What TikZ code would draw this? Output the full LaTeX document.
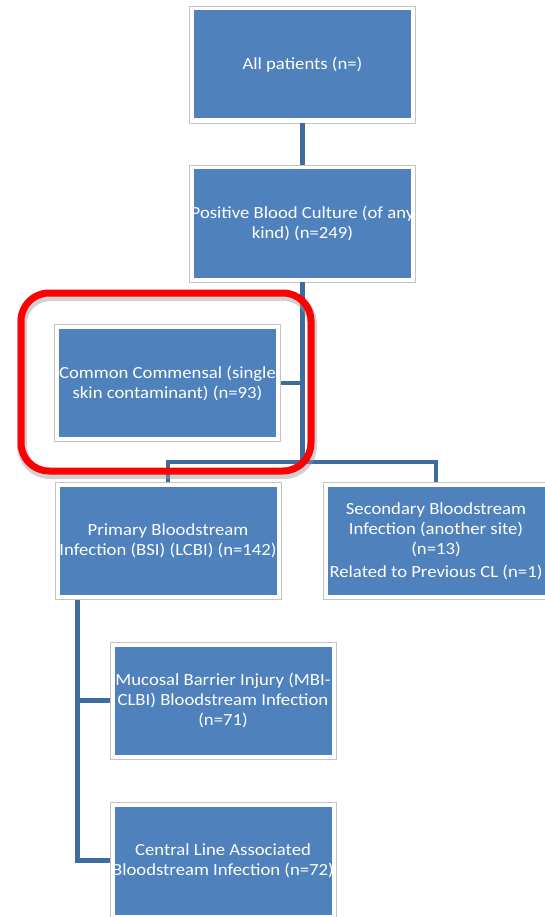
\documentclass[tikz,border=0pt]{standalone}
\usepackage{fontspec}
\setmainfont{Carlito}[FakeStretch=1.1]
\usepackage{xcolor}
\usepackage{tikz}
\usetikzlibrary{shapes,arrows}

\definecolor{boxblue}{HTML}{4F81BD}
\definecolor{lineblue}{HTML}{3F6C9E}
\definecolor{framegray}{HTML}{C4C4C4}

\begin{document}
\begin{tikzpicture}[auto,x=1pt,y=-1pt]
						\tikzset{align=center,font=\fontsize{17}{20}\selectfont}
						
						\tikzset{stage/.style = {shape=rectangle,draw=framegray,fill=white,line width=0.8pt,minimum width=226pt,minimum height=117pt,inner sep=0pt,text=white,
								path picture={\fill[boxblue] ([shift={(4.5pt,-4.5pt)}]path picture bounding box.north west) rectangle ([shift={(-4.5pt,4.5pt)}]path picture bounding box.south east);}}}
						
						\tikzset{edge/.style = {draw=lineblue,line width=4.5pt}}
						
						\tikzset{redframe/.style = {shape=rectangle,draw=red,line width=7pt,rounded corners=28pt,
								preaction={draw=black!40,opacity=0.45,line width=10pt,transform canvas={xshift=1pt,yshift=-3pt}}}}
						
						\useasboundingbox (0,0) rectangle (544,917);
						
						% vertices
						
						\node[stage] (all) at (302.5,64.5) {All patients (n=)};
						
						\node[stage] (pos) at (302.5,223.5) {Positive Blood Culture (of any\\kind) (n=249)};
						
						\node[stage] (com) at (167.5,383) {Common Commensal (single\\skin contaminant) (n=93)};
						
						\node[stage] (pri) at (168,541) {Primary Bloodstream\\Infection (BSI) (LCBI) (n=142)};
						
						\node[stage] (sec) at (436,541) {Secondary Bloodstream\\Infection (another site)\\(n=13)\\[3pt]Related to Previous CL (n=1)};
						
						\node[stage] (mbi) at (223,700.5) {Mucosal Barrier Injury (MBI-\\CLBI) Bloodstream Infection\\(n=71)};
						
						\node[stage] (cl) at (223,860.5) {Central Line Associated\\Bloodstream Infection (n=72)};
						
						\coordinate (split) at (302.5,462);
						%edges
						
						\begin{scope}
						\draw[edge] (all) -- (pos);
						\draw[edge] (pos) -- (split);
						\draw[edge] (com) -- (com -| split);
						\draw[edge] (pri) |- (split) -| (sec);
						\draw[edge] ([xshift=23pt]pri.south west) |- (mbi);
						\draw[edge] ([xshift=23pt]pri.south west) |- (cl);
						\end{scope}
						
						% highlight
						\node[redframe,minimum width=290pt,minimum height=178pt] (focus) at (166,382) {};
				\end{tikzpicture}
\end{document}
